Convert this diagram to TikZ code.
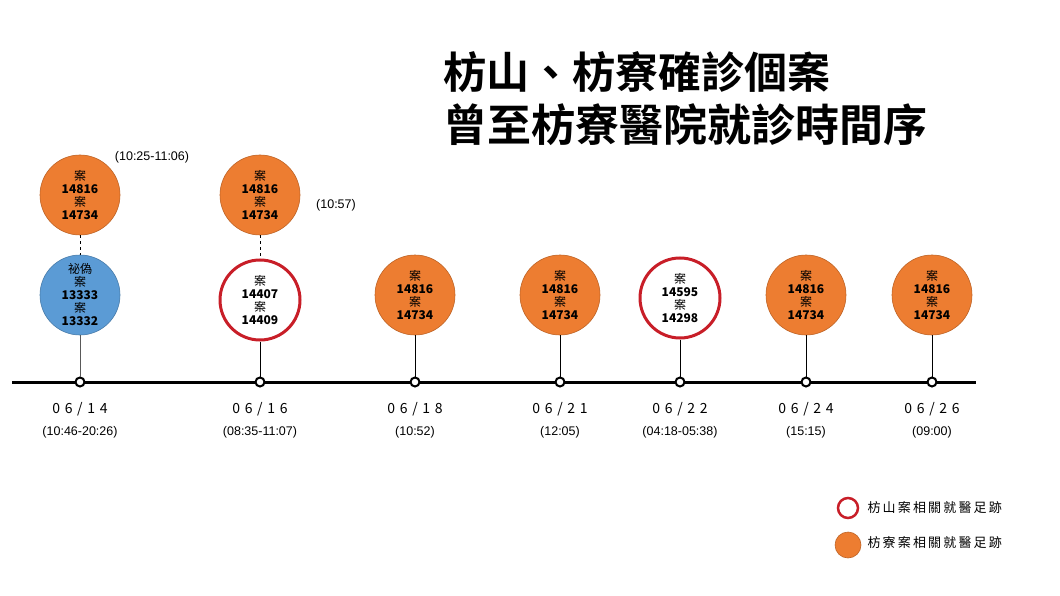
\documentclass[tikz,border=0pt]{standalone}
\usepackage{fontspec}
\setmainfont{Liberation Sans}
\newfontfamily\cjk{Noto Sans CJK TC}
\newfontfamily\cjkb{Noto Sans CJK TC Bold}
\definecolor{org}{RGB}{237,125,49}
\definecolor{blu}{RGB}{91,155,213}
\definecolor{rd}{RGB}{200,30,40}
\begin{document}
\begin{tikzpicture}[x=1pt,y=-1pt,
 org/.style={circle,fill=org,draw=org!80!black,line width=0.6pt,minimum size=80pt,inner sep=0pt,align=center,font=\fontsize{12}{13}\selectfont\cjk},
 blu/.style={org,fill=blu,draw=blu!80!black},
 red/.style={org,fill=white,draw=rd,line width=3pt},
 dot/.style={circle,draw=black,fill=white,line width=2pt,minimum size=9pt,inner sep=0pt},
 date/.style={font=\fontsize{14}{14}\selectfont\cjk},
 tm/.style={font=\fontsize{12.5}{12.5}\selectfont}]
\useasboundingbox (0,0) rectangle (1060,596);
\node[anchor=west,font=\fontsize{43}{43}\selectfont\cjkb] (t1) at (440,72) {枋山、枋寮確診個案};
\node[anchor=west,font=\fontsize{44}{44}\selectfont\cjkb] (t2) at (440,125) {曾至枋寮醫院就診時間序};
\coordinate (L) at (12,382); \coordinate (R) at (976,382);
\draw[line width=3pt] (L) -- (R);
\newcommand\cs[2]{案\\\textbf{#1}\\案\\\textbf{#2}}
\foreach \n/\x in {a/80,b/260,c/415,d/560,e/680,f/806,g/932} \node[dot] (d\n) at (\x,382) {};
\node[org] (a1) at (80,195) {\cs{14816}{14734}};
\node[blu] (a) at (80,295) {祕偽\\案\\\textbf{13333}\\案\\\textbf{13332}};
\node[org] (b1) at (260,195) {\cs{14816}{14734}};
\node[red] (b) at (260,300) {\cs{14407}{14409}};
\node[org] (c) at (415,295) {\cs{14816}{14734}};
\node[org] (d) at (560,295) {\cs{14816}{14734}};
\node[red] (e) at (680,298) {\cs{14595}{14298}};
\node[org] (f) at (806,295) {\cs{14816}{14734}};
\node[org] (g) at (932,295) {\cs{14816}{14734}};
\draw[dashed] (a1) -- (a); \draw[dashed] (b1) -- (b);
\draw[gray!70!black] (a) -- (da);
\foreach \n in {b,c,d,e,f,g} \draw (\n) -- (d\n);
\node[tm] (x1) at (152,157) {(10:25-11:06)};
\node[tm] (x2) at (336,205) {(10:57)};
\foreach \x/\dd/\t in {80/1\,\,4/(10:46-20:26),260/1\,\,6/(08:35-11:07),415/1\,\,8/(10:52),560/2\,\,1/(12:05),680/2\,\,2/(04:18-05:38),806/2\,\,4/(15:15),932/2\,\,6/(09:00)}{
 \node[date] at (\x,409) {0\,\,6\,\,/\,\,\dd};
 \node[tm] at (\x,432) {\t};}
\node[red,minimum size=20pt,line width=2.5pt] (k1) at (848,508) {};
\node[anchor=west,font=\fontsize{13}{13}\selectfont\cjk] (k1t) at (864,508) {枋\,山\,案\,相\,關\,就\,醫\,足\,跡};
\node[org,minimum size=26pt] (k2) at (848,545) {};
\node[anchor=west,font=\fontsize{13}{13}\selectfont\cjk] (k2t) at (864,543) {枋\,寮\,案\,相\,關\,就\,醫\,足\,跡};
\end{tikzpicture}
\end{document}
